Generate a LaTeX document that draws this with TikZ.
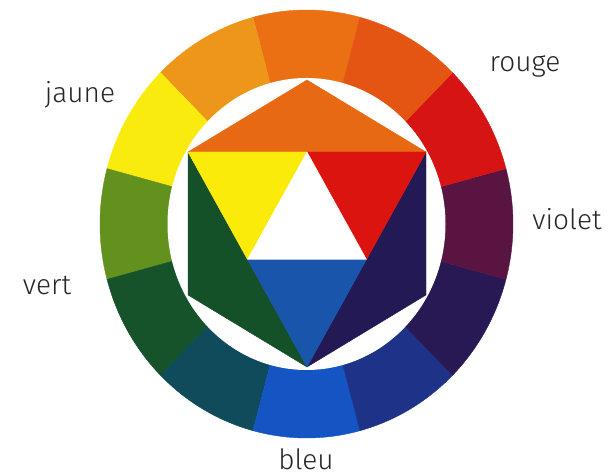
\documentclass[tikz,border=0pt]{standalone}
\usepackage{fontspec}
\setmainfont{Fira Sans Light}
\usepackage{tikz}
\usetikzlibrary{calc}
\definecolor{ringO}{RGB}{235,112,20}
\definecolor{ringYO}{RGB}{238,150,25}
\definecolor{ringY}{RGB}{250,235,15}
\definecolor{ringYG}{RGB}{98,145,30}
\definecolor{ringG}{RGB}{22,82,42}
\definecolor{ringBG}{RGB}{15,75,90}
\definecolor{ringB}{RGB}{20,85,195}
\definecolor{ringBV}{RGB}{30,50,135}
\definecolor{ringV}{RGB}{40,25,85}
\definecolor{ringRV}{RGB}{90,20,65}
\definecolor{ringR}{RGB}{215,20,20}
\definecolor{ringRO}{RGB}{228,85,20}
\definecolor{hexO}{RGB}{232,105,20}
\definecolor{hexY}{RGB}{250,235,10}
\definecolor{hexR}{RGB}{220,20,15}
\definecolor{hexB}{RGB}{25,85,170}
\definecolor{hexG}{RGB}{20,80,40}
\definecolor{hexV}{RGB}{35,25,85}

\begin{document}
\begin{tikzpicture}[
    x=1pt, y=1pt,
    label/.style={font=\fontsize{28}{32}\selectfont, text=black!85, anchor=base, inner sep=0pt},
    patch/.style={fill=#1, draw=#1, line width=0.4pt, line join=round}
]
\useasboundingbox (0,0) rectangle (613,476);

% Wheel centre
\coordinate (C) at (306.5,252);

% Outer ring, twelve colours
\foreach \a/\c in {90/ringO, 120/ringYO, 150/ringY, 180/ringYG, 210/ringG, 240/ringBG,
                   270/ringB, 300/ringBV, 330/ringV, 360/ringRV, 30/ringR, 60/ringRO}
    \draw[patch=\c] (C) -- ($(C)+(\a-15:206.5 and 214)$)
        arc[start angle=\a-15, end angle=\a+15, x radius=206.5, y radius=214] -- cycle;

% Inner white disc
\fill[white] (C) ellipse[x radius=139, y radius=146];

% Hexagon corners
\coordinate (T) at (307,396);
\coordinate (UL) at (188,324);
\coordinate (UR) at (426,324);
\coordinate (LL) at (188,181);
\coordinate (LR) at (426,181);
\coordinate (B) at (307,109);
\coordinate (MT) at ($(UL)!0.5!(UR)$);
\coordinate (ML) at ($(UL)!0.5!(B)$);
\coordinate (MR) at ($(UR)!0.5!(B)$);

% Hexagon triangles
\draw[patch=hexO] (UL) -- (T) -- (UR) -- cycle;
\draw[patch=hexG] (UL) -- (B) -- (LL) -- cycle;
\draw[patch=hexV] (UR) -- (LR) -- (B) -- cycle;
\draw[patch=hexY] (UL) -- (MT) -- (ML) -- cycle;
\draw[patch=hexR] (MT) -- (UR) -- (MR) -- cycle;
\draw[patch=hexB] (ML) -- (MR) -- (B) -- cycle;
\draw[patch=white] (MT) -- (MR) -- (ML) -- cycle;

% Labels
\node[label] (rouge) at (525,404) {rouge};
\node[label] (jaune) at (80,373) {jaune};
\node[label] (violet) at (567,246) {violet};
\node[label] (vert) at (47,181) {vert};
\node[label] (bleu) at (306,6) {bleu};

\end{tikzpicture}
\end{document}
